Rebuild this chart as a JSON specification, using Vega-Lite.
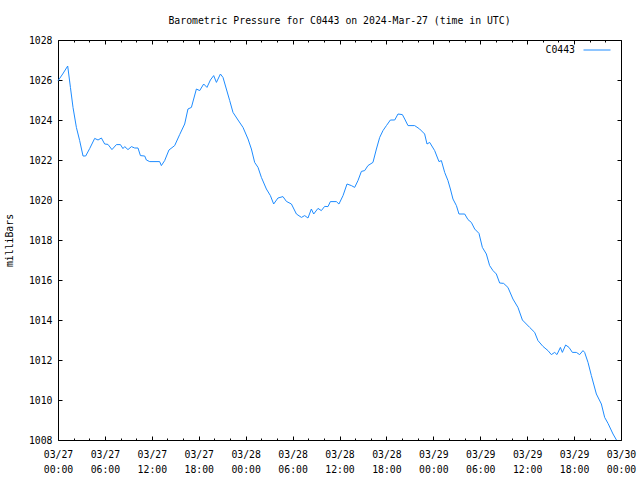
{
  "$schema": "https://vega.github.io/schema/vega-lite/v6.json",
  "width": 563,
  "height": 400,
  "autosize": {"type": "none"},
  "padding": {"left": 58, "top": 40, "right": 19, "bottom": 40},
  "background": "white",
  "title": {
    "text": "Barometric Pressure for C0443 on 2024-Mar-27 (time in UTC)",
    "font": "DejaVu Sans Mono",
    "fontSize": 9.8,
    "fontWeight": "normal",
    "color": "black",
    "anchor": "middle",
    "offset": 9
  },
  "data": {
    "values": [
      {"hour": 0, "mbar": 1025.96},
      {"hour": 0.6, "mbar": 1026.3},
      {"hour": 1.24, "mbar": 1026.7},
      {"hour": 1.59, "mbar": 1025.63},
      {"hour": 1.92, "mbar": 1024.63},
      {"hour": 2.35, "mbar": 1023.63},
      {"hour": 2.77, "mbar": 1022.97},
      {"hour": 3.2, "mbar": 1022.2},
      {"hour": 3.54, "mbar": 1022.2},
      {"hour": 4.05, "mbar": 1022.57},
      {"hour": 4.69, "mbar": 1023.08},
      {"hour": 5.12, "mbar": 1023.0},
      {"hour": 5.55, "mbar": 1023.1},
      {"hour": 5.97, "mbar": 1022.8},
      {"hour": 6.39, "mbar": 1022.78},
      {"hour": 6.9, "mbar": 1022.52},
      {"hour": 7.47, "mbar": 1022.77},
      {"hour": 7.98, "mbar": 1022.77},
      {"hour": 8.31, "mbar": 1022.57},
      {"hour": 8.53, "mbar": 1022.67},
      {"hour": 8.95, "mbar": 1022.52},
      {"hour": 9.39, "mbar": 1022.67},
      {"hour": 9.81, "mbar": 1022.6},
      {"hour": 10.23, "mbar": 1022.6},
      {"hour": 10.54, "mbar": 1022.22},
      {"hour": 11.09, "mbar": 1022.2},
      {"hour": 11.3, "mbar": 1022.0},
      {"hour": 11.73, "mbar": 1021.92},
      {"hour": 13.0, "mbar": 1021.92},
      {"hour": 13.22, "mbar": 1021.72},
      {"hour": 13.64, "mbar": 1021.97},
      {"hour": 14.19, "mbar": 1022.5},
      {"hour": 14.92, "mbar": 1022.72},
      {"hour": 15.56, "mbar": 1023.27},
      {"hour": 16.2, "mbar": 1023.8},
      {"hour": 16.62, "mbar": 1024.55},
      {"hour": 17.06, "mbar": 1024.63},
      {"hour": 17.7, "mbar": 1025.55},
      {"hour": 18.12, "mbar": 1025.47},
      {"hour": 18.63, "mbar": 1025.8},
      {"hour": 19.05, "mbar": 1025.63},
      {"hour": 19.49, "mbar": 1026.0},
      {"hour": 19.91, "mbar": 1026.22},
      {"hour": 20.26, "mbar": 1025.88},
      {"hour": 20.77, "mbar": 1026.3},
      {"hour": 21.1, "mbar": 1026.13},
      {"hour": 21.53, "mbar": 1025.55},
      {"hour": 21.96, "mbar": 1024.97},
      {"hour": 22.38, "mbar": 1024.38},
      {"hour": 23.02, "mbar": 1024.0},
      {"hour": 23.66, "mbar": 1023.63},
      {"hour": 24.3, "mbar": 1023.05},
      {"hour": 24.73, "mbar": 1022.55},
      {"hour": 25.15, "mbar": 1021.88},
      {"hour": 25.58, "mbar": 1021.63},
      {"hour": 26.01, "mbar": 1021.13},
      {"hour": 26.65, "mbar": 1020.55},
      {"hour": 27.16, "mbar": 1020.22},
      {"hour": 27.58, "mbar": 1019.8},
      {"hour": 28.13, "mbar": 1020.1},
      {"hour": 28.77, "mbar": 1020.17},
      {"hour": 29.21, "mbar": 1019.93},
      {"hour": 29.85, "mbar": 1019.8},
      {"hour": 30.49, "mbar": 1019.3},
      {"hour": 31.13, "mbar": 1019.13},
      {"hour": 31.55, "mbar": 1019.22},
      {"hour": 31.97, "mbar": 1019.1},
      {"hour": 32.4, "mbar": 1019.55},
      {"hour": 32.7, "mbar": 1019.3},
      {"hour": 33.25, "mbar": 1019.58},
      {"hour": 33.68, "mbar": 1019.47},
      {"hour": 34.1, "mbar": 1019.68},
      {"hour": 34.53, "mbar": 1019.67},
      {"hour": 34.83, "mbar": 1019.92},
      {"hour": 35.6, "mbar": 1019.92},
      {"hour": 35.93, "mbar": 1019.8},
      {"hour": 36.45, "mbar": 1020.22},
      {"hour": 36.96, "mbar": 1020.8},
      {"hour": 37.52, "mbar": 1020.72},
      {"hour": 37.94, "mbar": 1020.63},
      {"hour": 38.36, "mbar": 1020.97},
      {"hour": 38.8, "mbar": 1021.43},
      {"hour": 39.22, "mbar": 1021.47},
      {"hour": 39.64, "mbar": 1021.72},
      {"hour": 40.28, "mbar": 1021.88},
      {"hour": 40.72, "mbar": 1022.55},
      {"hour": 41.14, "mbar": 1023.13},
      {"hour": 41.56, "mbar": 1023.47},
      {"hour": 42.0, "mbar": 1023.72},
      {"hour": 42.51, "mbar": 1024.0},
      {"hour": 43.06, "mbar": 1024.0},
      {"hour": 43.48, "mbar": 1024.3},
      {"hour": 44.04, "mbar": 1024.27},
      {"hour": 44.34, "mbar": 1024.05},
      {"hour": 44.76, "mbar": 1023.72},
      {"hour": 45.61, "mbar": 1023.72},
      {"hour": 46.25, "mbar": 1023.55},
      {"hour": 46.89, "mbar": 1023.3},
      {"hour": 47.19, "mbar": 1022.8},
      {"hour": 47.53, "mbar": 1022.88},
      {"hour": 48.17, "mbar": 1022.47},
      {"hour": 48.72, "mbar": 1021.92},
      {"hour": 49.03, "mbar": 1021.97},
      {"hour": 49.45, "mbar": 1021.38},
      {"hour": 49.87, "mbar": 1020.97},
      {"hour": 50.18, "mbar": 1020.55},
      {"hour": 50.51, "mbar": 1020.05},
      {"hour": 50.95, "mbar": 1019.72},
      {"hour": 51.28, "mbar": 1019.3},
      {"hour": 52.01, "mbar": 1019.3},
      {"hour": 52.43, "mbar": 1019.02},
      {"hour": 52.86, "mbar": 1018.88},
      {"hour": 53.29, "mbar": 1018.55},
      {"hour": 53.84, "mbar": 1018.33},
      {"hour": 54.27, "mbar": 1017.63},
      {"hour": 54.78, "mbar": 1017.3},
      {"hour": 55.2, "mbar": 1016.72},
      {"hour": 55.63, "mbar": 1016.47},
      {"hour": 56.06, "mbar": 1016.3},
      {"hour": 56.48, "mbar": 1015.85},
      {"hour": 56.99, "mbar": 1015.83},
      {"hour": 57.54, "mbar": 1015.63},
      {"hour": 58.18, "mbar": 1015.05},
      {"hour": 58.82, "mbar": 1014.63},
      {"hour": 59.39, "mbar": 1014.0},
      {"hour": 60.32, "mbar": 1013.63},
      {"hour": 60.96, "mbar": 1013.38},
      {"hour": 61.38, "mbar": 1012.97},
      {"hour": 62.02, "mbar": 1012.68},
      {"hour": 62.66, "mbar": 1012.47},
      {"hour": 63.09, "mbar": 1012.27},
      {"hour": 63.52, "mbar": 1012.38},
      {"hour": 63.81, "mbar": 1012.27},
      {"hour": 64.25, "mbar": 1012.63},
      {"hour": 64.5, "mbar": 1012.38},
      {"hour": 64.92, "mbar": 1012.75},
      {"hour": 65.35, "mbar": 1012.63},
      {"hour": 65.78, "mbar": 1012.38},
      {"hour": 66.29, "mbar": 1012.38},
      {"hour": 66.71, "mbar": 1012.27},
      {"hour": 67.14, "mbar": 1012.47},
      {"hour": 67.35, "mbar": 1012.38},
      {"hour": 67.78, "mbar": 1011.88},
      {"hour": 68.21, "mbar": 1011.22},
      {"hour": 68.85, "mbar": 1010.3},
      {"hour": 69.49, "mbar": 1009.8},
      {"hour": 69.91, "mbar": 1009.13},
      {"hour": 70.34, "mbar": 1008.83},
      {"hour": 70.98, "mbar": 1008.3},
      {"hour": 71.42, "mbar": 1008.0}
    ]
  },
  "resolve": {"axis": {"x": "independent", "y": "independent"}},
  "layer": [
    {
      "mark": {"type": "line", "strokeWidth": 1, "interpolate": "linear"},
      "encoding": {
        "x": {
          "field": "hour",
          "type": "quantitative",
          "scale": {"domain": [0, 72], "nice": false, "zero": false},
          "axis": {
            "orient": "bottom",
            "title": null,
            "values": [0, 6, 12, 18, 24, 30, 36, 42, 48, 54, 60, 66, 72],
            "labelExpr": "['03/' + (27 + floor(datum.value / 24)), (datum.value % 24 < 10 ? '0' : '') + (datum.value % 24) + ':00']",
            "tickSize": -4,
            "labelPadding": 13,
            "labelLineHeight": 15,
            "labelBaseline": "top",
            "domain": false,
            "grid": false,
            "labelFlush": false,
            "labelOverlap": false
          }
        },
        "y": {
          "field": "mbar",
          "type": "quantitative",
          "scale": {"domain": [1008, 1028], "nice": false, "zero": false},
          "axis": {
            "orient": "left",
            "title": "milliBars",
            "values": [1008, 1010, 1012, 1014, 1016, 1018, 1020, 1022, 1024, 1026, 1028],
            "format": "d",
            "tickSize": -4,
            "labelPadding": 10,
            "titlePadding": 14,
            "domain": false,
            "grid": false,
            "labelFlush": false,
            "labelOverlap": false
          }
        },
        "color": {
          "datum": "C0443",
          "type": "nominal",
          "scale": {"range": ["#1E8CFF"]},
          "legend": {
            "title": null,
            "orient": "none",
            "legendX": 525,
            "legendY": -4,
            "padding": 0,
            "symbolType": "stroke",
            "symbolSize": 729,
            "symbolStrokeWidth": 1,
            "labelAlign": "right",
            "labelOffset": -36,
            "labelFont": "DejaVu Sans Mono",
            "labelFontSize": 9.8,
            "labelColor": "black"
          }
        }
      }
    },
    {
      "mark": {"type": "line", "strokeOpacity": 0},
      "encoding": {
        "x": {
          "field": "hour",
          "type": "quantitative",
          "axis": {
            "orient": "top",
            "title": null,
            "values": [0, 6, 12, 18, 24, 30, 36, 42, 48, 54, 60, 66, 72],
            "labels": false,
            "tickSize": -4,
            "domain": false,
            "grid": false
          }
        },
        "y": {
          "field": "mbar",
          "type": "quantitative",
          "axis": {
            "orient": "right",
            "title": null,
            "values": [1008, 1010, 1012, 1014, 1016, 1018, 1020, 1022, 1024, 1026, 1028],
            "labels": false,
            "tickSize": -4,
            "domain": false,
            "grid": false
          }
        }
      }
    },
    {
      "mark": {"type": "line", "strokeOpacity": 0},
      "encoding": {
        "x": {
          "field": "hour",
          "type": "quantitative",
          "axis": {
            "orient": "bottom",
            "title": null,
            "values": [2, 4, 8, 10, 14, 16, 20, 22, 26, 28, 32, 34, 38, 40, 44, 46, 50, 52, 56, 58, 62, 64, 68, 70],
            "labels": false,
            "tickSize": -2,
            "domain": false,
            "grid": false
          }
        },
        "y": {"field": "mbar", "type": "quantitative", "axis": null}
      }
    },
    {
      "mark": {"type": "line", "strokeOpacity": 0},
      "encoding": {
        "x": {
          "field": "hour",
          "type": "quantitative",
          "axis": {
            "orient": "top",
            "title": null,
            "values": [2, 4, 8, 10, 14, 16, 20, 22, 26, 28, 32, 34, 38, 40, 44, 46, 50, 52, 56, 58, 62, 64, 68, 70],
            "labels": false,
            "tickSize": -2,
            "domain": false,
            "grid": false
          }
        },
        "y": {"field": "mbar", "type": "quantitative", "axis": null}
      }
    }
  ],
  "config": {
    "view": {"stroke": "black", "strokeWidth": 1},
    "axis": {
      "labelFont": "DejaVu Sans Mono",
      "labelFontSize": 9.8,
      "labelColor": "black",
      "titleFont": "DejaVu Sans Mono",
      "titleFontSize": 9.8,
      "titleFontWeight": "normal",
      "titleColor": "black",
      "tickColor": "black",
      "tickWidth": 1,
      "offset": 0
    }
  }
}
